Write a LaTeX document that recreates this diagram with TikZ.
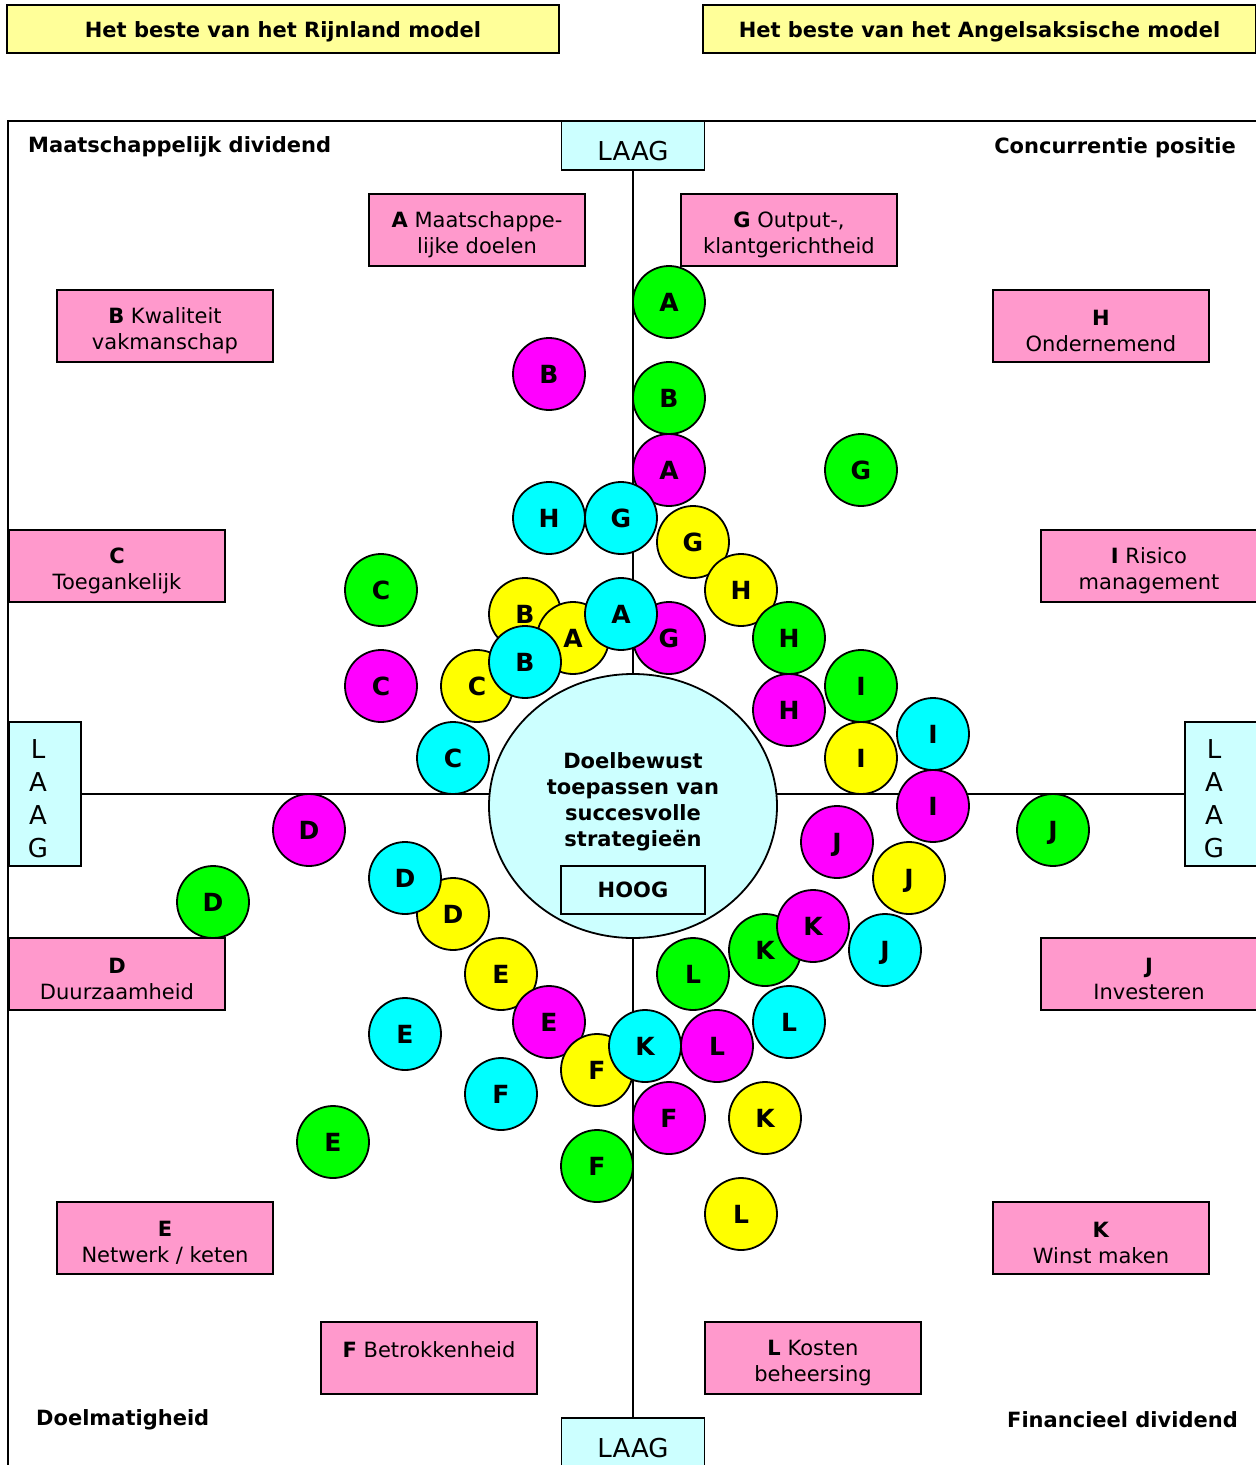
\documentclass[tikz,border=0pt]{standalone}
\usepackage{fontspec}
\setmainfont{DejaVu Sans}
\usetikzlibrary{shapes.geometric}
\definecolor{pnk}{HTML}{FF99CC}
\definecolor{paleyel}{HTML}{FFFF99}
\definecolor{palecyan}{HTML}{CCFFFF}
\definecolor{gn}{HTML}{00FF00}
\definecolor{mg}{HTML}{FF00FF}
\definecolor{yl}{HTML}{FFFF00}
\definecolor{cy}{HTML}{00FFFF}
\tikzset{
  ln/.style={line width=1.8pt},
  title/.style={draw, ln, fill=paleyel, minimum width=552, minimum height=48, inner sep=0pt,
    text height=17pt, text depth=0pt, font=\fontsize{21}{25}\selectfont\bfseries},
  goal/.style={draw, ln, fill=pnk, minimum width=216, minimum height=72, inner sep=0pt},
  goaltext/.style={align=center, inner sep=0pt, font=\fontsize{21}{26}\selectfont},
  lowbox/.style={draw, ln, fill=palecyan, inner sep=0pt},
  lowtext/.style={inner sep=0pt, font=\fontsize{26}{33}\selectfont, align=center},
  corner/.style={font=\fontsize{21}{25}\selectfont\bfseries, inner sep=0pt},
  disk/.style={circle, draw, ln, minimum size=72, inner sep=0pt, text height=18pt, text depth=0pt,
    font=\fontsize{25}{29}\selectfont\bfseries},
  dg/.style={disk, fill=gn}, dm/.style={disk, fill=mg},
  dy/.style={disk, fill=yl}, dc/.style={disk, fill=cy},
}
% a goal box with its caption set slightly below the box centre
\newcommand\goalbox[3]{%
  \node[goal] (#1) at (#2) {};
  \node[goaltext] (#1t) at ([yshift=-5pt]#1.center) {#3};}
\begin{document}
\begin{tikzpicture}[x=1pt,y=-1pt]
\useasboundingbox (0,0) rectangle (1256,1465);

% headings
\node[title] (rijn) at (283,29) {Het beste van het Rijnland model};
\node[title, minimum width=553] (angl) at (979.5,29) {Het beste van het Angelsaksische model};

% frame
\draw[ln] (8,1470) -- (8,121) -- (1260,121);

% axis end boxes
\node[lowbox, minimum width=143, minimum height=49, lowtext, text height=29pt, text depth=0pt] (lagT) at (633,145.5) {LAAG};
\node[lowbox, minimum width=143, minimum height=49, lowtext, text height=29pt, text depth=0pt] (lagB) at (633,1442.5) {LAAG};
\node[lowbox, minimum width=72, minimum height=144] (lagL) at (45,794) {};
\node[lowtext] (lagLt) at ([xshift=-7pt,yshift=-5pt]lagL.center) {L\\A\\A\\G};
\node[lowbox, minimum width=72, minimum height=144] (lagR) at (1221,794) {};
\node[lowtext] (lagRt) at ([xshift=-7pt,yshift=-5pt]lagR.center) {L\\A\\A\\G};

% axes
\draw[ln] (lagT.south) -- (lagB.north);
\draw[ln] (lagL.east) -- (lagR.west);

% corner captions
\node[corner, anchor=west] (c1) at (28,147) {Maatschappelijk dividend};
\node[corner, anchor=east] (c2) at (1236,148) {Concurrentie positie};
\node[corner, anchor=west] (c3) at (36,1420) {Doelmatigheid};
\node[corner, anchor=east] (c4) at (1238,1420) {Financieel dividend};

% goal boxes
\goalbox{bA}{477,230}{\textbf{A} Maatschappe-\\lijke doelen}
\goalbox{bG}{789,230}{\textbf{G} Output-,\\klantgerichtheid}
\goalbox{bB}{165,326}{\textbf{B} Kwaliteit\\vakmanschap}
\goalbox{bH}{1101,326}{\textbf{H}\\Ondernemend}
\goalbox{bC}{117,566}{\textbf{C}\\Toegankelijk}
\goalbox{bI}{1149,566}{\textbf{I} Risico\\management}
\goalbox{bD}{117,974}{\textbf{D}\\Duurzaamheid}
\goalbox{bJ}{1149,974}{\textbf{J}\\Investeren}
\goalbox{bE}{165,1238}{\textbf{E}\\Netwerk / keten}
\goalbox{bK}{1101,1238}{\textbf{K}\\Winst maken}
\goalbox{bF}{429,1358}{\textbf{F} Betrokkenheid\\\mbox{}}
\goalbox{bL}{813,1358}{\textbf{L} Kosten\\beheersing}

% central hub
\node[ellipse, draw, ln, fill=palecyan, minimum width=288, minimum height=264, inner sep=0pt] (hub) at (633,806) {};
\node[align=center, inner sep=0pt, font=\fontsize{21}{26}\selectfont\bfseries] (hubtxt) at (633,802) {Doelbewust\\toepassen van\\succesvolle\\strategieën};
\node[draw, ln, fill=palecyan, minimum width=144, minimum height=48, inner sep=0pt,
  font=\fontsize{21}{25}\selectfont\bfseries] (hoog) at (633,890) {HOOG};

% scores
\node[dg] (gA) at (669,302) {A};
\node[dm] (mB) at (549,374) {B};
\node[dg] (gB) at (669,398) {B};
\node[dm] (mA) at (669,470) {A};
\node[dg] (gG) at (861,470) {G};
\node[dc] (cH) at (549,518) {H};
\node[dc] (cG) at (621,518) {G};
\node[dy] (yG) at (693,542) {G};
\node[dg] (gC) at (381,590) {C};
\node[dy] (yH) at (741,590) {H};
\node[dy] (yB) at (525,614) {B};
\node[dy] (yA) at (573,638) {A};
\node[dm] (mG) at (669,638) {G};
\node[dc] (cA) at (621,614) {A};
\node[dg] (gH) at (789,638) {H};
\node[dy] (yC) at (477,686) {C};
\node[dc] (cB) at (525,662) {B};
\node[dm] (mC) at (381,686) {C};
\node[dg] (gI) at (861,686) {I};
\node[dm] (mH) at (789,710) {H};
\node[dc] (cI) at (933,734) {I};
\node[dc] (cC) at (453,758) {C};
\node[dy] (yI) at (861,758) {I};
\node[dm] (mI) at (933,806) {I};
\node[dm] (mD) at (309,830) {D};
\node[dg] (gJ) at (1053,830) {J};
\node[dm] (mJ) at (837,842) {J};
\node[dy] (yD) at (453,914) {D};
\node[dc] (cD) at (405,878) {D};
\node[dy] (yJ) at (909,878) {J};
\node[dg] (gD) at (213,902) {D};
\node[dg] (gK) at (765,950) {K};
\node[dm] (mK) at (813,926) {K};
\node[dc] (cJ) at (885,950) {J};
\node[dy] (yE) at (501,974) {E};
\node[dg] (gL) at (693,974) {L};
\node[dc] (cE) at (405,1034) {E};
\node[dm] (mE) at (549,1022) {E};
\node[dc] (cL) at (789,1022) {L};
\node[dy] (yF) at (597,1070) {F};
\node[dc] (cK) at (645,1046) {K};
\node[dm] (mL) at (717,1046) {L};
\node[dc] (cF) at (501,1094) {F};
\node[dm] (mF) at (669,1118) {F};
\node[dy] (yK) at (765,1118) {K};
\node[dg] (gE) at (333,1142) {E};
\node[dg] (gF) at (597,1166) {F};
\node[dy] (yL) at (741,1214) {L};
\end{tikzpicture}
\end{document}
